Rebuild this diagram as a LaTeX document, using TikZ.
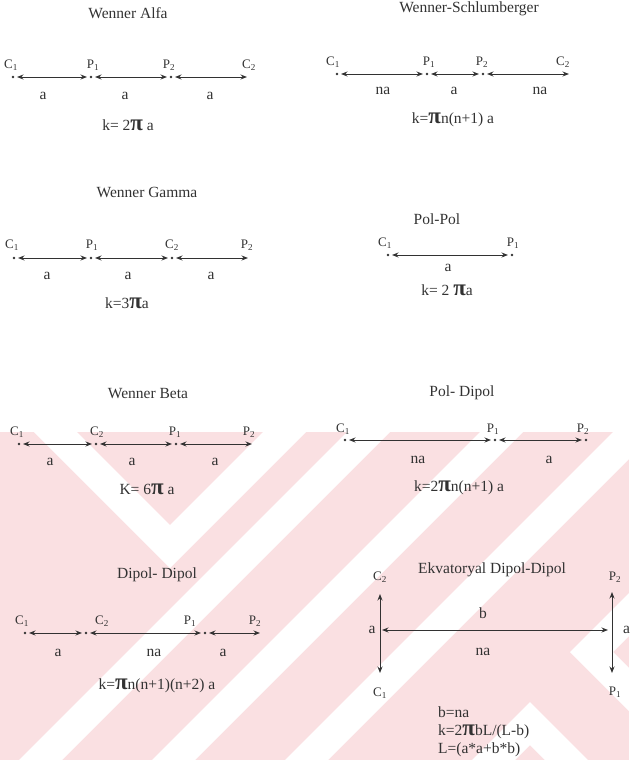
\documentclass[tikz,border=0pt]{standalone}
\usepackage{fontspec}
\setmainfont{Liberation Serif}
\usepackage{tikz}
\usetikzlibrary{positioning, arrows.meta, calc}
\definecolor{ink}{RGB}{50,50,50}
\definecolor{wmpink}{RGB}{250,224,226}
\tikzset{
  ttl/.style={font=\fontsize{15.5}{15.5}\selectfont, text=ink, inner sep=0pt},
  elab/.style={font=\fontsize{13}{13}\selectfont, text=ink, inner sep=0pt},
  dlab/.style={font=\fontsize{15.5}{15.5}\selectfont, text=ink, inner sep=0pt},
  frm/.style={dlab},
  darr/.style={{Stealth[length=6.5pt,width=5pt]}-{Stealth[length=6.5pt,width=5pt]}, line width=1pt, draw=ink, shorten <=4pt, shorten >=4pt},
  varr/.style={darr, shorten <=0pt, shorten >=0pt},
  edot/.style={fill=ink},
}
\newcommand{\bigpi}{\smash{\fontsize{23}{23}\selectfont\bfseries π}}
\newcommand{\el}[2]{#1\textsubscript{#2}}

\begin{document}
\begin{tikzpicture}[x=1pt, y=-1pt]
\useasboundingbox (0,0) rectangle (629,760);
% watermark
\begin{scope}
\clip (0,432) rectangle (629,760);
\fill[wmpink] (0,432) rectangle (629,760);
\fill[white] (34,432) -- (170,568) -- (306,432) -- (263,432) -- (170,525) -- (77,432) -- cycle;
\fill[white] (347,432) -- (390,432) -- (62,760) -- (19,760) -- cycle;
\fill[white] (480,432) -- (523,432) -- (195,760) -- (152,760) -- cycle;
\fill[white] (613,432) -- (656,432) -- (328,760) -- (285,760) -- cycle;
\fill[white] (570,652) -- (629,593) -- (629,636) -- (613,652) -- (629,668) -- (629,711) -- cycle;
\fill[white] (472,760) -- (530,702) -- (588,760) -- (545,760) -- (530,745) -- (515,760) -- cycle;
\end{scope}

% Wenner Alfa
\node[ttl] (wa) at (128,13) {Wenner Alfa};
\coordinate (wac1) at (13,77);
\coordinate (wap1) at (91,77);
\coordinate (wap2) at (171,77);
\coordinate (wac2) at (251,77);
\node[elab] (wac1l) at (11,65) {\el{C}{1}};
\node[elab] (wap1l) at (93,65) {\el{P}{1}};
\node[elab] (wap2l) at (169,65) {\el{P}{2}};
\node[elab] (wac2l) at (249,65) {\el{C}{2}};
\draw[darr] (wac1) -- (wap1);
\draw[darr] (wap1) -- (wap2);
\draw[darr] (wap2) -- (wac2);
\foreach \p in {wac1,wap1,wap2} \fill[edot] (\p) circle (1.3pt);
\node[dlab] (wa1) at (43,96) {a};
\node[dlab] (wa2) at (125,96) {a};
\node[dlab] (wa3) at (210,96) {a};
\node[frm] (wak) at (128,125) {k= 2\bigpi\ a};

% Wenner-Schlumberger
\node[ttl] (ws) at (469,9) {Wenner-Schlumberger};
\coordinate (wsc1) at (337,74);
\coordinate (wsp1) at (427,74);
\coordinate (wsp2) at (483,74);
\coordinate (wsc2) at (573,74);
\node[elab] (wsc1l) at (333,62) {\el{C}{1}};
\node[elab] (wsp1l) at (429,62) {\el{P}{1}};
\node[elab] (wsp2l) at (482,62) {\el{P}{2}};
\node[elab] (wsc2l) at (563,62) {\el{C}{2}};
\draw[darr] (wsc1) -- (wsp1);
\draw[darr] (wsp1) -- (wsp2);
\draw[darr] (wsp2) -- (wsc2);
\foreach \p in {wsc1,wsp1,wsp2} \fill[edot] (\p) circle (1.3pt);
\node[dlab] (ws1) at (383,91) {na};
\node[dlab] (ws2) at (454,91) {a};
\node[dlab] (ws3) at (540,91) {na};
\node[frm] (wsk) at (453,120) {k=\bigpi n(n+1) a};

% Wenner Gamma
\node[ttl] (wg) at (147,192) {Wenner Gamma};
\coordinate (wgc1) at (14,258);
\coordinate (wgp1) at (91,258);
\coordinate (wgc2) at (172,258);
\coordinate (wgp2) at (252,258);
\node[elab] (wgc1l) at (12,245) {\el{C}{1}};
\node[elab] (wgp1l) at (92,245) {\el{P}{1}};
\node[elab] (wgc2l) at (172,245) {\el{C}{2}};
\node[elab] (wgp2l) at (247,245) {\el{P}{2}};
\draw[darr] (wgc1) -- (wgp1);
\draw[darr] (wgp1) -- (wgc2);
\draw[darr] (wgc2) -- (wgp2);
\foreach \p in {wgc1,wgp1,wgc2} \fill[edot] (\p) circle (1.3pt);
\node[dlab] (wg1) at (47,276) {a};
\node[dlab] (wg2) at (128,276) {a};
\node[dlab] (wg3) at (211,276) {a};
\node[frm] (wgk) at (127,303) {k=3\bigpi a};

% Pol-Pol
\node[ttl] (pp) at (437,219) {Pol-Pol};
\coordinate (ppc1) at (388,255);
\coordinate (ppp1) at (512,255);
\node[elab] (ppc1l) at (385,243) {\el{C}{1}};
\node[elab] (ppp1l) at (513,243) {\el{P}{1}};
\draw[darr] (ppc1) -- (ppp1);
\foreach \p in {ppc1,ppp1} \fill[edot] (\p) circle (1.3pt);
\node[dlab] (pp1) at (448,268) {a};
\node[frm] (ppk) at (447,290) {k= 2 \bigpi a};

% Wenner Beta
\node[ttl] (wb) at (148,394) {Wenner Beta};
\coordinate (wbc1) at (19,444);
\coordinate (wbc2) at (96,444);
\coordinate (wbp1) at (176,444);
\coordinate (wbp2) at (256,444);
\node[elab] (wbc1l) at (17,432) {\el{C}{1}};
\node[elab] (wbc2l) at (97,432) {\el{C}{2}};
\node[elab] (wbp1l) at (175,432) {\el{P}{1}};
\node[elab] (wbp2l) at (249,432) {\el{P}{2}};
\draw[darr] (wbc1) -- (wbc2);
\draw[darr] (wbc2) -- (wbp1);
\draw[darr] (wbp1) -- (wbp2);
\foreach \p in {wbc1,wbc2,wbp1} \fill[edot] (\p) circle (1.3pt);
\node[dlab] (wb1) at (50,462) {a};
\node[dlab] (wb2) at (132,462) {a};
\node[dlab] (wb3) at (215,462) {a};
\node[frm] (wbk) at (147,489) {K= 6\bigpi\ a};

% Pol-Dipol
\node[ttl] (pd) at (462,393) {Pol- Dipol};
\coordinate (pdc1) at (345,440);
\coordinate (pdp1) at (495,440);
\coordinate (pdp2) at (586,440);
\node[elab] (pdc1l) at (343,429) {\el{C}{1}};
\node[elab] (pdp1l) at (493,429) {\el{P}{1}};
\node[elab] (pdp2l) at (583,429) {\el{P}{2}};
\draw[darr] (pdc1) -- (pdp1);
\draw[darr] (pdp1) -- (pdp2);
\foreach \p in {pdc1,pdp1,pdp2} \fill[edot] (\p) circle (1.3pt);
\node[dlab] (pd1) at (418,460) {na};
\node[dlab] (pd2) at (549,460) {a};
\node[frm] (pdk) at (459,488) {k=2\bigpi n(n+1) a};

% Dipol-Dipol
\node[ttl] (dd) at (157,575) {Dipol- Dipol};
\coordinate (ddc1) at (25,633);
\coordinate (ddc2) at (86,633);
\coordinate (ddp1) at (205,633);
\coordinate (ddp2) at (264,633);
\node[elab] (ddc1l) at (22,621) {\el{C}{1}};
\node[elab] (ddc2l) at (102,621) {\el{C}{2}};
\node[elab] (ddp1l) at (190,621) {\el{P}{1}};
\node[elab] (ddp2l) at (255,621) {\el{P}{2}};
\draw[darr] (ddc1) -- (ddc2);
\draw[darr] (ddc2) -- (ddp1);
\draw[darr] (ddp1) -- (ddp2);
\foreach \p in {ddc1,ddc2,ddp1} \fill[edot] (\p) circle (1.3pt);
\node[dlab] (dd1) at (58,653) {a};
\node[dlab] (dd2) at (154,653) {na};
\node[dlab] (dd3) at (223,653) {a};
\node[frm] (ddk) at (157,686) {k=\bigpi n(n+1)(n+2) a};

% Ekvatoryal Dipol-Dipol
\node[ttl] (ed) at (492,570) {Ekvatoryal Dipol-Dipol};
\coordinate (edc2) at (380,594);
\coordinate (edc1) at (380,673);
\coordinate (edp2) at (612,592);
\coordinate (edp1) at (612,673);
\coordinate (edl) at (380,630);
\coordinate (edr) at (612,630);
\node[elab] (edc2l) at (380,577) {\el{C}{2}};
\node[elab] (edc1l) at (380,693) {\el{C}{1}};
\node[elab] (edp2l) at (615,577) {\el{P}{2}};
\node[elab] (edp1l) at (615,692) {\el{P}{1}};
\draw[varr] (edc1) -- (edc2);
\draw[varr] (edp1) -- (edp2);
\draw[darr, shorten <=2pt] (edl) -- (edr);
\node[dlab] (eda1) at (372,630) {a};
\node[dlab, anchor=west] (eda2) at (623,630) {a};
\node[dlab] (edb) at (483,613) {b};
\node[dlab] (edna) at (483,652) {na};
\node[frm, font=\fontsize{15.5}{18}\selectfont, align=left, anchor=base west] (edk) at (438,753)
  {b=na\\k=2\bigpi bL/(L-b)\\L=(a*a+b*b)};
\end{tikzpicture}
\end{document}
